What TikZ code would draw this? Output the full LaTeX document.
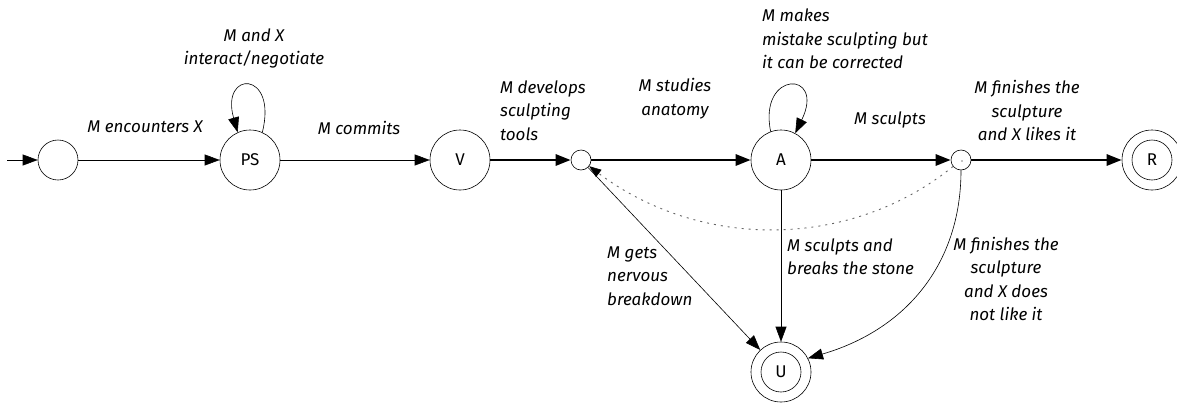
\documentclass[tikz,border=0pt]{standalone}
\usepackage{fontspec}
\setmainfont{Fira Sans}
\usetikzlibrary{arrows.meta}

\tikzset{
  state/.style={circle, draw, line width=0.6pt, minimum size=60pt, inner sep=0pt,
    font=\fontsize{17}{20}\selectfont},
  junction/.style={circle, draw, line width=0.6pt, fill=white, minimum size=20pt, inner sep=0pt},
  ring/.style={line width=0.6pt},
  lbl/.style={font=\fontsize{17}{23.5}\selectfont\itshape, inner sep=0pt},
  tip/.style={-{Triangle[length=15pt,width=11pt]}},
  thin edge/.style={tip, line width=0.6pt},
  bold edge/.style={tip, line width=2.8pt},
  back edge/.style={line width=0.9pt, black!60, dash pattern=on 2pt off 5pt, shorten >=11pt},
  back tip/.style={-{Triangle[length=12pt,width=9pt]}, black, line width=0.6pt,
    dash pattern=on 0pt off 4000pt},
}

\begin{document}
\begin{tikzpicture}[x=1pt, y=-1pt]
  \useasboundingbox (0,0) rectangle (1177,402);

  % states
  \coordinate (init) at (7,160);
  \node[state, minimum size=40pt] (s0) at (58,160) {};
  \node[state] (PS) at (250,160) {PS};
  \node[state] (V) at (460,160) {V};
  \node[junction] (j1) at (581,160) {};
  \node[state] (A) at (781,160) {A};
  \node[junction] (j2) at (961,160) {};
  \fill (962,161) circle (0.6pt);
  \node[state] (R) at (1152,160) {R};
  \draw[ring] (R.center) circle (20pt);
  \node[state] (U) at (781,372) {U};
  \draw[ring] (U.center) circle (20pt);

  % transitions
  \draw[thin edge] (init) -- (s0);
  \draw[thin edge] (s0) -- (PS);
  \draw[thin edge] (PS.66) .. controls (278,70) and (220,70) .. (PS.114);
  \draw[thin edge] (PS) -- (V);
  \draw[bold edge] (V) -- (j1);
  \draw[bold edge] (j1) -- (A);
  \draw[thin edge] (A.110) .. controls (758,70) and (826,70) .. (A.62);
  \draw[bold edge] (A) -- (j2);
  \draw[bold edge] (j2) -- (R);
  % dotted return edge: dotted stroke, then its solid head
  \draw[back edge] (j2) .. controls (850,250) and (700,250) .. (j1);
  \draw[back tip] (j2) .. controls (850,250) and (700,250) .. (j1);
  \draw[thin edge] (j1) -- (U);
  \draw[thin edge] (A) -- (U);
  \draw[thin edge] (j2.south) .. controls (961,265) and (905,330) .. (U.27);

  % labels
  \node[lbl] (l1) at (145,127) {M encounters X};
  \node[lbl, align=center] (l2) at (254,48.5) {M and X\\interact/negotiate};
  \node[lbl] (l3) at (359,128) {M commits};
  \node[lbl, align=left, anchor=west] (l4) at (500,110.5) {M develops\\sculpting\\tools};
  \node[lbl, align=center] (l5) at (675,98.5) {M studies\\anatomy};
  \node[lbl, align=left, anchor=west] (l6) at (762,39) {M makes\\mistake sculpting but\\it can be corrected};
  \node[lbl] (l7) at (890,120) {M sculpts};
  \node[lbl, align=center] (l8) at (1027,110.5) {M finishes the\\sculpture\\and X likes it};
  \node[lbl, align=left, anchor=west] (l9) at (607,276) {M gets\\nervous\\breakdown};
  \node[lbl, align=left, anchor=west] (l10) at (787,256.5) {M sculpts and\\breaks the stone};
  \node[lbl, align=center] (l11) at (1006,279) {M finishes the\\sculpture\\and X does\\not like it};
\end{tikzpicture}
\end{document}
